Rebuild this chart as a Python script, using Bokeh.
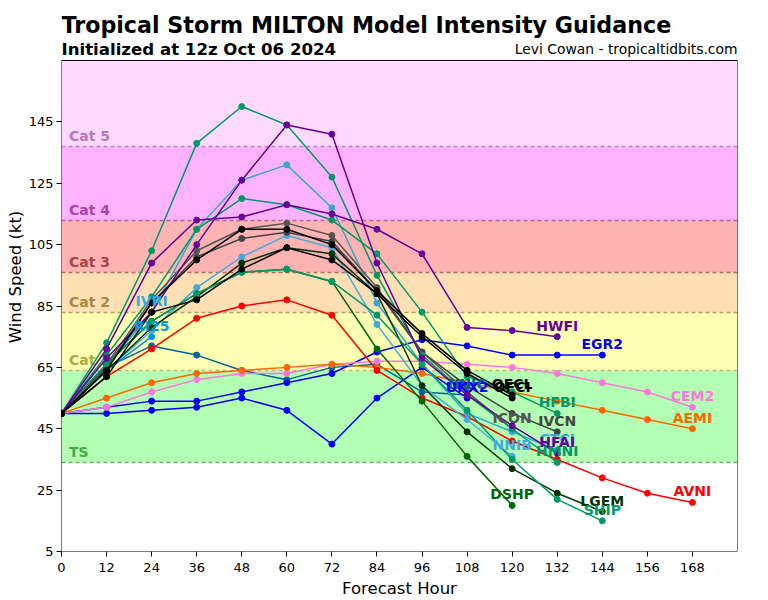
from bokeh.plotting import figure
from bokeh.models import Label, FixedTicker
from bokeh.embed import file_html
from bokeh.resources import INLINE
from bokeh.core.properties import value

HOURS = [0, 12, 24, 36, 48, 60, 72, 84, 96, 108, 120, 132, 144, 156, 168]
X_MAX = 180
Y_MIN, Y_MAX = 5, 165
Y_TICKS = [5, 25, 45, 65, 85, 105, 125, 145]

# Category bands (kt)
CAT_NAMES = ["TS", "Cat 1", "Cat 2", "Cat 3", "Cat 4", "Cat 5"]
CAT_BOTTOM = [34, 64, 83, 96, 113, 137]
CAT_TOP = [64, 83, 96, 113, 137, 165]
CAT_FILL = ["#b3ffb3", "#ffffb3", "#ffdfb3", "#ffb3b3", "#ffb3ff", "#ffd9ff"]
CAT_LINE = ["#77aa77", "#bbbb77", "#bb9966", "#bb6666", "#aa66aa", "#bb88bb"]
CAT_TEXT = ["#44aa44", "#aaaa44", "#aa8844", "#aa4444", "#aa44aa", "#bb77bb"]

# Model intensity forecasts (kt), one value per 12 h from hour 0
NNIC = [50, 65, 72, 69, 64, 61, 65, 66, 57, 56]
UKX2 = [50, 50, 51, 52, 55, 51, 40, 55, 65, 55]
EGR2 = [50, 52, 54, 54, 57, 60, 63, 70, 74, 72, 69, 69, 69]
CEM2 = [50, 52, 57, 61, 63, 63, 66, 67, 67, 66, 65, 63, 60, 57, 52]
AEMI = [50, 55, 60, 63, 64, 65, 66, 65, 63, 60, 57, 54, 51, 48, 45]
AVNI = [50, 62, 71, 81, 85, 87, 82, 64, 55, 49, 41, 35, 29, 24, 21]
IVRI = [50, 65, 83]
RI25 = [50, 64, 75]
NNIB = [50, 64, 77, 91, 101, 108, 104, 79, 59, 48, 36]
CTCI = [50, 66, 83, 110, 126, 131, 117, 86, 66, 50, 44, 38]
ICON = [50, 66, 87, 103, 110, 112, 108, 91, 70, 57, 45]
IVCN = [50, 65, 86, 101, 107, 109, 106, 90, 70, 59, 50, 44]
LGEM = [50, 64, 78, 88, 99, 104, 102, 89, 59, 44, 32, 24, 18]
DSHP = [50, 66, 80, 89, 96, 97, 93, 71, 54, 36, 20]
SHIP = [50, 66, 80, 89, 96, 97, 93, 82, 66, 51, 35, 22, 15]
HFBI = [50, 69, 88, 110, 120, 118, 113, 102, 83, 62, 57, 50]
HMNI = [50, 73, 103, 138, 150, 144, 127, 95, 69, 56, 45, 34]
HFAI = [50, 68, 83, 105, 126, 144, 141, 99, 68, 56, 46, 37]
HWFI = [50, 71, 99, 113, 114, 118, 115, 110, 102, 78, 77, 75]
OFCI = [50, 62, 83, 87, 97, 104, 100, 89, 75, 63, 55]
OFCL = [50, 64, 86, 100, 110, 110, 105, 90, 76, 64, 56]

MODELS = [
    ("NNIC", NNIC, "#006699"),
    ("UKX2", UKX2, "#0000ff"),
    ("EGR2", EGR2, "#0000ff"),
    ("CEM2", CEM2, "#ff77dd"),
    ("AEMI", AEMI, "#ff6600"),
    ("AVNI", AVNI, "#ff0000"),
    ("IVRI", IVRI, "#33aadd"),
    ("RI25", RI25, "#0099dd"),
    ("NNIB", NNIB, "#44aadd"),
    ("CTCI", CTCI, "#33aacc"),
    ("ICON", ICON, "#555555"),
    ("IVCN", IVCN, "#444444"),
    ("LGEM", LGEM, "#003300"),
    ("DSHP", DSHP, "#006600"),
    ("SHIP", SHIP, "#009966"),
    ("HFBI", HFBI, "#009966"),
    ("HMNI", HMNI, "#009966"),
    ("HFAI", HFAI, "#660099"),
    ("HWFI", HWFI, "#660099"),
    ("OFCI", OFCI, "#000000"),
    ("OFCL", OFCL, "#000000"),
]

TITLE = "Tropical Storm MILTON Model Intensity Guidance"
SUBTITLE = "Initialized at 12z Oct 06 2024"
CREDIT = "Levi Cowan - tropicaltidbits.com"

FONT = value("DejaVu Sans")

# layout (pixels): chart box 491 px tall, with a 58 px header strip above it
BOX_PX = 491
HEAD_PX = 58
FIG_W, FIG_H = 768, 600
BORDER_L, BORDER_R, BORDER_T, BORDER_B = 61, 31, 2, 49
y_top = Y_MAX + HEAD_PX * (Y_MAX - Y_MIN) / BOX_PX

p = figure(width=FIG_W, height=FIG_H, x_range=(0, X_MAX), y_range=(Y_MIN, y_top),
           output_backend="svg", toolbar_location=None,
           min_border_left=BORDER_L, min_border_right=BORDER_R,
           min_border_top=BORDER_T, min_border_bottom=BORDER_B)
p.title.visible = False
p.grid.visible = False
p.outline_line_color = None
p.background_fill_color = "white"
p.border_fill_color = "white"

# bands
p.quad(left=0, right=X_MAX, bottom=CAT_BOTTOM, top=CAT_TOP, fill_color=CAT_FILL,
       line_color=None)
p.hspan(y=CAT_BOTTOM, line_color=CAT_LINE, line_dash="4 3", line_width=1.3)
p.text(x=[2] * len(CAT_NAMES), y=[b + 0.8 for b in CAT_BOTTOM], text=CAT_NAMES,
       text_color=CAT_TEXT, text_font=FONT, text_font_style="bold",
       text_font_size="14px", text_baseline="bottom", text_align="left")

# model lines
for name, vals, col in MODELS:
    hrs = HOURS[:len(vals)]
    p.line(hrs, vals, line_color=col, line_width=1.5)
    p.scatter(hrs, vals, size=6, fill_color=col, line_color=col)

for name, vals, col in MODELS:
    last_h = HOURS[len(vals) - 1]
    p.text(x=[last_h], y=[vals[-1] + 3.6], text=[name], text_color=col,
           text_font=FONT, text_font_style="bold", text_font_size="14px",
           text_align="center", text_baseline="middle")

# chart box border
p.quad(left=[0], right=[X_MAX], bottom=[Y_MIN], top=[Y_MAX], fill_color=None,
       line_color="black", line_width=1)

# axes
p.xaxis.ticker = FixedTicker(ticks=HOURS)
p.yaxis.ticker = FixedTicker(ticks=Y_TICKS)
for ax in (p.xaxis[0], p.yaxis[0]):
    ax.axis_line_color = None
    ax.major_tick_line_color = "black"
    ax.major_tick_out = 5
    ax.major_tick_in = 0
    ax.minor_tick_line_color = None
    ax.major_label_text_font = "DejaVu Sans"
    ax.major_label_text_font_size = "13px"
    ax.major_label_text_color = "black"
    ax.axis_label_text_font = "DejaVu Sans"
    ax.axis_label_text_font_size = "16.5px"
    ax.axis_label_text_font_style = "normal"
    ax.axis_label_text_color = "black"
p.xaxis.major_label_standoff = 6
p.xaxis.axis_label_standoff = 4
p.yaxis.major_label_standoff = 3
p.yaxis.axis_label_standoff = 1
p.xaxis.axis_label = "Forecast Hour"
p.yaxis.axis_label = "Wind Speed (kt)"

# header texts, placed above the chart box
p.add_layout(Label(x=0, y=Y_MAX, y_offset=36, text=TITLE,
                   text_font="DejaVu Sans", text_font_style="bold", text_font_size="22.2px",
                   text_baseline="alphabetic", text_align="left", text_color="black"))
p.add_layout(Label(x=0, y=Y_MAX, y_offset=11, text=SUBTITLE,
                   text_font="DejaVu Sans", text_font_style="bold", text_font_size="16.6px",
                   text_baseline="alphabetic", text_align="left", text_color="black"))
p.add_layout(Label(x=X_MAX, y=Y_MAX, y_offset=12, text=CREDIT,
                   text_font="DejaVu Sans", text_font_style="normal", text_font_size="13.9px",
                   text_baseline="alphabetic", text_align="right", text_color="black"))

open("out.html", "w").write(file_html(p, INLINE))
